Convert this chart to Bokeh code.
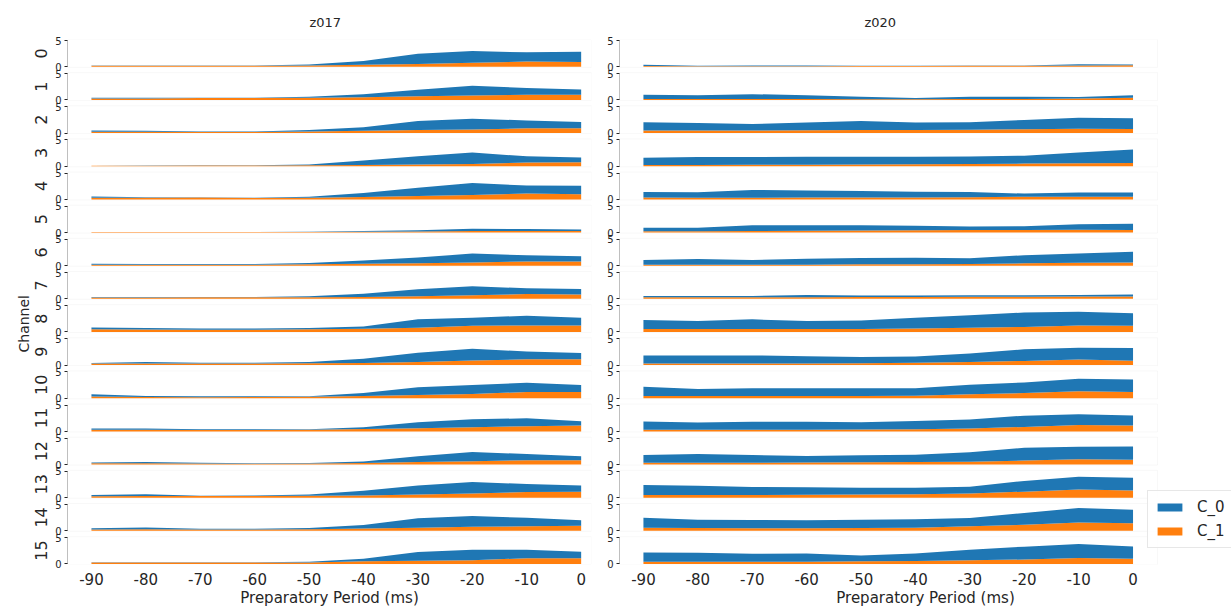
import numpy as np
from bokeh.plotting import figure
from bokeh.layouts import row
from bokeh.models import (Range1d, FixedTicker, Title, Legend, LegendItem,
                          ColumnDataSource, LinearAxis, BoxAnnotation)
from bokeh.embed import file_html
from bokeh.resources import INLINE

# ---------------- data ----------------
PERIODS = [-90, -80, -70, -60, -50, -40, -30, -20, -10, 0]
CHANNELS = list(range(16))
SESSIONS = ["z017", "z020"]
SERIES = ["C_0", "C_1"]
Y_TICKS = [0, 5]

Z017_C1 = [
    [0.2, 0.2, 0.2, 0.2, 0.25, 0.4, 0.55, 0.75, 1.0, 0.9],
    [0.3, 0.3, 0.35, 0.35, 0.4, 0.5, 0.7, 0.85, 1.0, 1.0],
    [0.25, 0.25, 0.2, 0.2, 0.3, 0.45, 0.6, 0.7, 0.9, 0.9],
    [0.1, 0.1, 0.15, 0.15, 0.2, 0.25, 0.35, 0.45, 0.7, 0.75],
    [0.3, 0.3, 0.35, 0.25, 0.3, 0.45, 0.65, 0.85, 1.1, 1.0],
    [0.1, 0.1, 0.1, 0.1, 0.1, 0.15, 0.2, 0.3, 0.3, 0.3],
    [0.2, 0.2, 0.2, 0.2, 0.25, 0.35, 0.45, 0.6, 0.8, 0.8],
    [0.25, 0.25, 0.3, 0.3, 0.3, 0.35, 0.5, 0.7, 0.9, 0.8],
    [0.5, 0.45, 0.4, 0.4, 0.5, 0.6, 0.8, 1.2, 1.25, 1.25],
    [0.3, 0.3, 0.3, 0.3, 0.35, 0.4, 0.6, 0.9, 1.1, 1.1],
    [0.35, 0.25, 0.2, 0.25, 0.3, 0.45, 0.6, 0.8, 1.2, 1.2],
    [0.3, 0.3, 0.25, 0.25, 0.3, 0.45, 0.6, 0.8, 1.0, 1.1],
    [0.25, 0.25, 0.2, 0.15, 0.2, 0.3, 0.5, 0.65, 0.8, 0.8],
    [0.25, 0.3, 0.3, 0.3, 0.35, 0.4, 0.6, 0.8, 1.1, 1.15],
    [0.25, 0.3, 0.25, 0.25, 0.3, 0.45, 0.6, 0.8, 0.85, 0.95],
    [0.3, 0.3, 0.3, 0.3, 0.3, 0.5, 0.6, 0.7, 1.1, 1.1],
]
Z017_C0 = [
    [0.05, 0.05, 0.05, 0.05, 0.2, 0.7, 1.95, 2.25, 1.75, 1.95],
    [0.1, 0.1, 0.05, 0.05, 0.2, 0.6, 1.25, 1.85, 1.3, 1.0],
    [0.25, 0.2, 0.1, 0.1, 0.3, 0.65, 1.7, 2.05, 1.5, 1.2],
    [0.0, 0.05, 0.05, 0.05, 0.15, 0.85, 1.55, 2.15, 1.2, 0.9],
    [0.25, 0.1, 0.05, 0.05, 0.2, 0.75, 1.55, 2.25, 1.55, 1.6],
    [0.0, 0.0, 0.0, 0.0, 0.05, 0.15, 0.25, 0.4, 0.35, 0.3],
    [0.15, 0.1, 0.1, 0.1, 0.25, 0.65, 1.1, 1.7, 1.2, 1.0],
    [0.1, 0.1, 0.05, 0.05, 0.2, 0.6, 1.3, 1.7, 1.1, 1.05],
    [0.35, 0.3, 0.25, 0.25, 0.25, 0.45, 1.6, 1.5, 1.85, 1.45],
    [0.1, 0.3, 0.15, 0.15, 0.25, 0.8, 1.75, 2.2, 1.5, 1.2],
    [0.4, 0.2, 0.2, 0.15, 0.1, 0.55, 1.5, 1.7, 1.75, 1.3],
    [0.25, 0.25, 0.15, 0.15, 0.1, 0.35, 1.15, 1.5, 1.5, 0.85],
    [0.15, 0.25, 0.15, 0.1, 0.1, 0.3, 1.1, 1.75, 1.2, 0.8],
    [0.25, 0.35, 0.05, 0.1, 0.25, 0.9, 1.7, 2.2, 1.5, 1.15],
    [0.25, 0.35, 0.15, 0.15, 0.25, 0.65, 1.8, 2.0, 1.65, 1.05],
    [0.05, 0.05, 0.05, 0.05, 0.1, 0.5, 1.7, 2.0, 1.6, 1.25],
]
Z020_C1 = [
    [0.15, 0.1, 0.1, 0.1, 0.15, 0.15, 0.2, 0.2, 0.25, 0.3],
    [0.2, 0.2, 0.2, 0.2, 0.15, 0.15, 0.2, 0.2, 0.3, 0.4],
    [0.5, 0.5, 0.5, 0.55, 0.6, 0.6, 0.65, 0.75, 0.85, 0.8],
    [0.25, 0.25, 0.3, 0.3, 0.35, 0.4, 0.45, 0.5, 0.55, 0.6],
    [0.35, 0.3, 0.3, 0.35, 0.35, 0.35, 0.4, 0.5, 0.5, 0.5],
    [0.25, 0.25, 0.3, 0.35, 0.4, 0.45, 0.5, 0.5, 0.55, 0.5],
    [0.2, 0.2, 0.2, 0.2, 0.25, 0.25, 0.3, 0.45, 0.55, 0.6],
    [0.3, 0.3, 0.3, 0.3, 0.35, 0.35, 0.4, 0.4, 0.45, 0.45],
    [0.55, 0.55, 0.55, 0.55, 0.55, 0.65, 0.8, 0.95, 1.25, 1.2],
    [0.3, 0.3, 0.3, 0.3, 0.35, 0.45, 0.6, 0.8, 1.05, 0.85],
    [0.45, 0.45, 0.45, 0.45, 0.45, 0.5, 0.75, 1.0, 1.35, 1.2],
    [0.3, 0.3, 0.3, 0.3, 0.35, 0.4, 0.55, 0.85, 1.2, 1.1],
    [0.35, 0.35, 0.35, 0.4, 0.45, 0.5, 0.55, 0.75, 1.0, 0.9],
    [0.5, 0.5, 0.5, 0.55, 0.6, 0.65, 0.8, 1.15, 1.55, 1.35],
    [0.6, 0.55, 0.5, 0.5, 0.55, 0.6, 0.85, 1.15, 1.6, 1.45],
    [0.4, 0.4, 0.4, 0.4, 0.5, 0.55, 0.7, 0.85, 1.15, 1.0],
]
Z020_C0 = [
    [0.25, 0.1, 0.15, 0.15, 0.05, 0.05, 0.05, 0.05, 0.25, 0.15],
    [0.8, 0.7, 0.9, 0.7, 0.45, 0.2, 0.4, 0.4, 0.25, 0.5],
    [1.55, 1.4, 1.25, 1.45, 1.7, 1.4, 1.4, 1.75, 2.05, 2.05],
    [1.35, 1.5, 1.45, 1.5, 1.45, 1.4, 1.4, 1.5, 2.05, 2.6],
    [1.05, 1.05, 1.5, 1.35, 1.25, 1.1, 1.0, 0.6, 0.8, 0.8],
    [0.65, 0.65, 1.1, 1.05, 1.0, 0.85, 0.65, 0.7, 1.05, 1.15],
    [0.9, 1.05, 0.9, 1.1, 1.2, 1.25, 1.1, 1.55, 1.75, 2.05],
    [0.25, 0.25, 0.25, 0.45, 0.3, 0.3, 0.3, 0.3, 0.3, 0.35],
    [1.75, 1.55, 1.85, 1.55, 1.65, 2.05, 2.4, 2.75, 2.6, 2.35],
    [1.55, 1.55, 1.55, 1.4, 1.2, 1.2, 1.6, 2.2, 2.25, 2.4],
    [1.75, 1.3, 1.45, 1.45, 1.45, 1.4, 1.8, 2.0, 2.35, 2.35],
    [1.6, 1.4, 1.55, 1.55, 1.4, 1.6, 1.7, 2.15, 2.05, 1.95],
    [1.45, 1.65, 1.45, 1.25, 1.3, 1.35, 1.8, 2.45, 2.4, 2.55],
    [1.9, 1.75, 1.55, 1.45, 1.3, 1.25, 1.3, 2.05, 2.45, 2.45],
    [1.9, 1.55, 1.55, 1.5, 1.55, 1.6, 1.6, 2.25, 2.75, 2.55],
    [1.8, 1.75, 1.55, 1.6, 1.1, 1.45, 2.0, 2.45, 2.65, 2.35],
]
DATA = {"z017": (Z017_C0, Z017_C1), "z020": (Z020_C0, Z020_C1)}

# ---------------- style / layout ----------------
BLUE = "#1f77b4"
ORANGE = "#ff7f0e"
FONT = "DejaVu Sans"
TXT = "#262626"
FRAME = "#e8e8e8"

ROW_STEP = 6.31        # vertical offset between stacked channel rows (value units)
ROW_TOP = 5.2          # top of each row's box
ROW_BOTTOM = -0.1      # bottom of each row's box
N = len(CHANNELS)
BASES = [(N - 1 - i) * ROW_STEP for i in range(N)]
Y_RANGE = (ROW_BOTTOM, BASES[0] + ROW_TOP)
X_START = -94.4
BOX_END = {0: 1.9, 1: 4.5}     # right edge of the panel boxes
X_END = {0: 1.9, 1: 18.1}      # right column frame also hosts the legend

H = 609
TOP_B, BOT_B = 39, 42


def make_column(col):
    session = SESSIONS[col]
    c0s, c1s = DATA[session]
    is_left = col == 0
    p = figure(
        width=592 if is_left else 639, height=H,
        x_range=Range1d(X_START, X_END[col]), y_range=Range1d(*Y_RANGE),
        title=session, output_backend="svg", toolbar_location=None,
        min_border=0, min_border_left=67 if is_left else 27,
        min_border_right=1 if is_left else 0,
        min_border_top=TOP_B, min_border_bottom=BOT_B,
    )
    p.outline_line_color = None
    p.xgrid.visible = False
    p.ygrid.visible = False

    renderers = None
    for i, ch in enumerate(CHANNELS):
        base = BASES[i]
        c1 = np.array(c1s[i])
        c0 = np.array(c0s[i])
        src = ColumnDataSource(dict(x=PERIODS, b=np.full(len(PERIODS), base),
                                    t1=base + c1, t0=base + c1 + c0))
        r1 = p.varea(x="x", y1="b", y2="t1", source=src, color=ORANGE)
        r0 = p.varea(x="x", y1="t1", y2="t0", source=src, color=BLUE)
        if renderers is None:
            renderers = (r0, r1)
        # light frame of the row
        p.add_layout(BoxAnnotation(right=BOX_END[col], bottom=base + ROW_BOTTOM,
                                   top=base + ROW_TOP, fill_color=None,
                                   line_color=FRAME, line_width=1, level="underlay"))
        # dark left spine of the row
        p.add_layout(BoxAnnotation(left=X_START, right=X_START, bottom=base + Y_TICKS[0],
                                   top=base + Y_TICKS[1], fill_color=None,
                                   line_color=TXT, line_width=1))

    # y ticks 0 / 5 of every row
    ticks, over = [], {}
    for base in BASES:
        for t in Y_TICKS:
            ticks.append(base + t)
            over[base + t] = str(t)
    ya = p.yaxis[0]
    ya.ticker = FixedTicker(ticks=ticks)
    ya.major_label_overrides = over
    ya.major_label_text_font = FONT
    ya.major_label_text_font_size = "10px"
    ya.major_label_text_color = TXT
    ya.major_label_standoff = 3
    ya.major_tick_out = 3
    ya.major_tick_in = 0
    ya.minor_tick_line_color = None
    ya.axis_line_color = None
    ya.major_tick_line_color = TXT

    if is_left:
        centers = [b + 2.55 for b in BASES]
        ch_axis = LinearAxis(ticker=FixedTicker(ticks=centers),
                             major_label_overrides={c: str(ch) for c, ch in zip(centers, CHANNELS)},
                             major_label_orientation="vertical",
                             axis_line_color=None, major_tick_line_color=None,
                             minor_tick_line_color=None, major_tick_out=0, major_tick_in=0,
                             major_label_standoff=5,
                             major_label_text_font=FONT, major_label_text_font_size="16px",
                             major_label_text_color=TXT)
        p.add_layout(ch_axis, "left")
        p.add_layout(Title(text="Channel", align="left", offset=212, standoff=2,
                           text_font=FONT, text_font_size="14px",
                           text_font_style="normal", text_color=TXT), "left")

    xa = p.xaxis[0]
    xa.ticker = FixedTicker(ticks=PERIODS)
    xa.major_label_overrides = {v: str(v) for v in PERIODS}
    xa.major_label_text_font = FONT
    xa.major_label_text_font_size = "15px"
    xa.major_label_text_color = TXT
    xa.major_label_standoff = 8
    xa.major_tick_out = 0
    xa.major_tick_in = 0
    xa.major_tick_line_color = None
    xa.minor_tick_line_color = None
    xa.axis_line_color = None
    xa.axis_label = "Preparatory Period (ms)"
    xa.axis_label_text_font = FONT
    xa.axis_label_text_font_size = "15px"
    xa.axis_label_text_font_style = "normal"
    xa.axis_label_text_color = TXT
    xa.axis_label_standoff = 1

    p.title.align = "left"
    p.title.offset = 242 if is_left else 245
    p.title.text_font = FONT
    p.title.text_font_size = "13px"
    p.title.text_font_style = "normal"
    p.title.text_color = TXT
    p.title.standoff = 19

    if not is_left:
        legend = Legend(items=[LegendItem(label=SERIES[0], renderers=[renderers[0]]),
                               LegendItem(label=SERIES[1], renderers=[renderers[1]])],
                        location=(528, 16))
        legend.label_text_font = FONT
        legend.label_text_font_size = "15px"
        legend.label_text_color = TXT
        legend.glyph_width = 31
        legend.glyph_height = 10
        legend.label_height = 20
        legend.label_standoff = 12
        legend.padding = 6
        legend.spacing = 4
        legend.margin = 0
        legend.border_line_color = "#d0d0d0"
        legend.background_fill_alpha = 0.85
        p.add_layout(legend)
    return p


layout = row(make_column(0), make_column(1), spacing=0)
open("out.html", "w").write(file_html(layout, INLINE))
